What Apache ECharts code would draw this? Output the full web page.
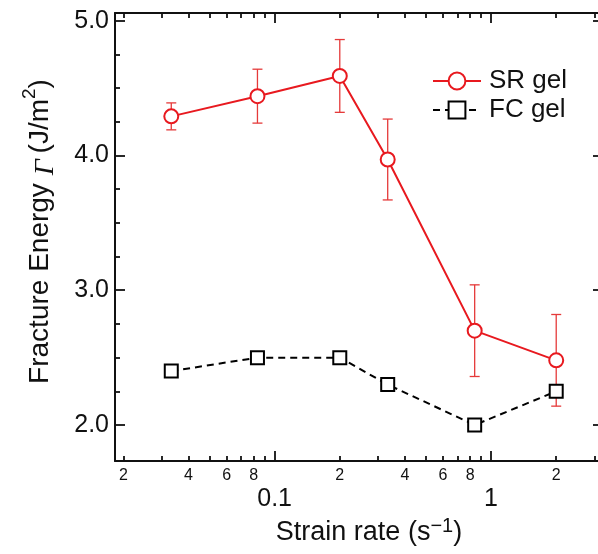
<!DOCTYPE html>
<html>
<head>
<meta charset="utf-8">
<script src="https://cdn.jsdelivr.net/npm/echarts@6/dist/echarts.min.js"></script>
<style>
  html, body { margin: 0; padding: 0; background: #fff; }
  #chart { width: 598px; height: 554px; }
</style>
</head>
<body>
<div id="chart"></div>
<script>
// Strain rate (s^-1) for each test
const strainRate = [0.0333, 0.0833, 0.2, 0.333, 0.84, 2.0];
// Fracture energy (J/m^2)
const srGel = [4.29, 4.44, 4.59, 3.97, 2.70, 2.48];
const srGelErr = [0.10, 0.20, 0.27, 0.30, 0.34, 0.34];
const fcGel = [2.40, 2.50, 2.50, 2.30, 2.00, 2.25];

// Axis ticks and labels
const xMajorTicks = [0.1, 1];
const xMajorLabels = ['0.1', '1'];
const xMinorTicks = [0.02, 0.03, 0.04, 0.05, 0.06, 0.07, 0.08, 0.09,
                     0.2, 0.3, 0.4, 0.5, 0.6, 0.7, 0.8, 0.9, 2, 3];
const xMinorLabelTicks = [0.02, 0.04, 0.06, 0.08, 0.2, 0.4, 0.6, 0.8, 2];
const xMinorLabels = ['2', '4', '6', '8', '2', '4', '6', '8', '2'];
const yMajorTicks = [2, 3, 4, 5];
const yMajorLabels = ['2.0', '3.0', '4.0', '5.0'];
const yMinorTicks = [2.25, 2.5, 2.75, 3.25, 3.5, 3.75, 4.25, 4.5, 4.75];

const X_MIN = 0.0183, X_MAX = 3.29;
const Y_MIN = 1.733, Y_MAX = 5.057;

const RED = '#e8191f';
const ERR_RED = '#e53a3a';
const INK = '#111';
const FONT = "'Liberation Sans', Arial, sans-serif";

// label text for the tick closest to v
function labelFor(ticks, labels, v, isLog) {
  let best = 0, bestD = Infinity;
  ticks.forEach((t, i) => {
    const d = isLog ? Math.abs(Math.log(t) - Math.log(v)) : Math.abs(t - v);
    if (d < bestD) { bestD = d; best = i; }
  });
  return labels[best];
}

function logX(position, ticks, len, extra) {
  return Object.assign({
    type: 'log', logBase: 10, min: X_MIN, max: X_MAX, position: position,
    axisLine: { show: false, onZero: false },
    axisTick: { show: true, inside: true, length: len, customValues: ticks,
                lineStyle: { color: INK, width: 1.8 } },
    axisLabel: { show: false },
    splitLine: { show: false },
    minorTick: { show: false }
  }, extra || {});
}
function valY(position, ticks, len, extra) {
  return Object.assign({
    type: 'value', min: Y_MIN, max: Y_MAX, position: position,
    axisLine: { show: false, onZero: false },
    axisTick: { show: true, inside: true, length: len, customValues: ticks,
                lineStyle: { color: INK, width: 1.8 } },
    axisLabel: { show: false },
    splitLine: { show: false }
  }, extra || {});
}
const spine = { show: true, onZero: false, lineStyle: { color: INK, width: 2 } };

const chart = echarts.init(document.getElementById('chart'), null, { renderer: 'canvas' });

chart.setOption({
  animation: false,
  backgroundColor: '#fff',
  textStyle: { fontFamily: FONT },
  grid: { left: 115, right: -5, top: 13, bottom: 93, containLabel: false,
          outerBoundsMode: 'none' },
  legend: {
    data: ['SR gel', 'FC gel'],
    orient: 'vertical',
    left: 432, top: 68,
    padding: 0,
    itemWidth: 48, itemHeight: 21, itemGap: 3,
    selectedMode: false,
    textStyle: { fontSize: 26, color: INK, fontFamily: FONT, lineHeight: 26,
                 padding: [0, 0, 0, 3] }
  },
  xAxis: [
    logX('bottom', xMajorTicks, 10, {
      axisLine: spine,
      axisLabel: { show: true, customValues: xMajorTicks, margin: 26,
                   fontSize: 25, color: INK, fontFamily: FONT,
                   formatter: v => labelFor(xMajorTicks, xMajorLabels, v, true) },
      name: 'Strain rate (s{sup|\u22121})',
      nameLocation: 'middle', nameGap: 64,
      nameTextStyle: {
        fontSize: 27, color: INK, fontFamily: FONT, lineHeight: 32,
        verticalAlign: 'bottom', padding: [0, 0, 0, 20],
        rich: { sup: { fontSize: 20, color: INK, fontFamily: FONT, verticalAlign: 'top' } }
      }
    }),
    logX('bottom', xMinorTicks, 5, {
      axisLabel: { show: true, customValues: xMinorLabelTicks, margin: 7,
                   fontSize: 16, color: INK, fontFamily: FONT,
                   formatter: v => labelFor(xMinorLabelTicks, xMinorLabels, v, true) }
    }),
    logX('top', xMajorTicks, 10, { axisLine: spine }),
    logX('top', xMinorTicks, 5)
  ],
  yAxis: [
    valY('left', yMajorTicks, 10, {
      axisLine: spine,
      axisLabel: { show: true, customValues: yMajorTicks, margin: 6,
                   fontSize: 25, color: INK, fontFamily: FONT,
                   formatter: v => labelFor(yMajorTicks, yMajorLabels, v, false) },
      name: 'Fracture Energy {it|\u0393}(J/m{sup|2})',
      nameLocation: 'middle', nameGap: 55,
      nameTextStyle: {
        fontSize: 28, color: INK, fontFamily: FONT, lineHeight: 40,
        verticalAlign: 'bottom', padding: [0, 0, 0, 11],
        rich: {
          it: { fontSize: 28, color: INK, fontStyle: 'italic',
                fontFamily: "'Liberation Serif', serif", verticalAlign: 'bottom', lineHeight: 40,
                padding: [0, 6, 0, 0] },
          sup: { fontSize: 19, color: INK, fontFamily: FONT, verticalAlign: 'top' }
        }
      }
    }),
    valY('left', yMinorTicks, 5),
    valY('right', yMajorTicks, 10),
    valY('right', yMinorTicks, 5)
  ],
  series: [
    {
      // error bars for the SR gel
      type: 'custom',
      xAxisIndex: 0, yAxisIndex: 0,
      silent: true, z: 1,
      data: strainRate.map((x, i) => [x, srGel[i] - srGelErr[i], srGel[i] + srGelErr[i]]),
      encode: { x: 0, y: [1, 2] },
      renderItem: function (params, api) {
        const lo = api.coord([api.value(0), api.value(1)]);
        const hi = api.coord([api.value(0), api.value(2)]);
        const w = 5;
        const style = { stroke: ERR_RED, lineWidth: 1.3, fill: null };
        return {
          type: 'group',
          children: [
            { type: 'line', shape: { x1: lo[0], y1: lo[1], x2: hi[0], y2: hi[1] }, style: style },
            { type: 'line', shape: { x1: lo[0] - w, y1: lo[1], x2: lo[0] + w, y2: lo[1] }, style: style },
            { type: 'line', shape: { x1: hi[0] - w, y1: hi[1], x2: hi[0] + w, y2: hi[1] }, style: style }
          ]
        };
      }
    },
    {
      name: 'FC gel',
      type: 'line',
      xAxisIndex: 0, yAxisIndex: 0,
      z: 3,
      data: strainRate.map((x, i) => [x, fcGel[i]]),
      symbol: 'rect', symbolSize: 13,
      itemStyle: { color: '#fff', borderColor: '#000', borderWidth: 2 },
      lineStyle: { color: '#000', width: 2, type: [7, 5] }
    },
    {
      name: 'SR gel',
      type: 'line',
      xAxisIndex: 0, yAxisIndex: 0,
      z: 4,
      data: strainRate.map((x, i) => [x, srGel[i]]),
      symbol: 'circle', symbolSize: 14,
      itemStyle: { color: '#fff', borderColor: RED, borderWidth: 2 },
      lineStyle: { color: RED, width: 2 }
    }
  ]
});
</script>
</body>
</html>
